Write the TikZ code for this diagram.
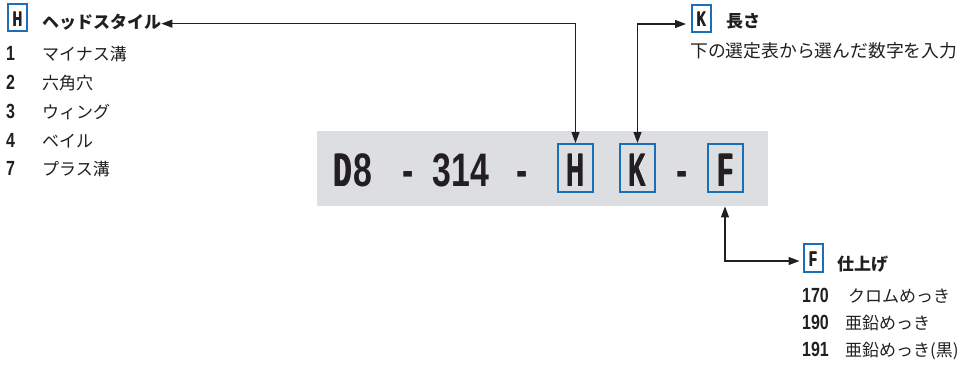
\documentclass[tikz,border=0pt]{standalone}
\usepackage{fontspec}
\setmainfont{Liberation Sans}
\newfontfamily\jp{Noto Sans CJK JP}
\usetikzlibrary{arrows.meta}
\definecolor{boxblue}{HTML}{1B6EB8}
\definecolor{bargray}{HTML}{DCDEE2}
\definecolor{ink}{HTML}{231F20}
\newcommand{\thk}[2]{\rlap{#2}\hspace{#1}\rlap{#2}\hspace{#1}#2}
\newcommand{\bigL}[1]{\thk{0.9pt}{\scalebox{0.5}[1]{\fontsize{47}{47}\selectfont\bfseries #1}}}
\newcommand{\bigD}[1]{\scalebox{0.72}[1]{\fontsize{47}{47}\selectfont\bfseries #1}}
\newcommand{\smL}[1]{\thk{0.4pt}{\scalebox{0.6}[1]{\fontsize{21}{21}\selectfont\bfseries #1}}}
\newcommand{\smD}[1]{\scalebox{0.78}[1]{\fontsize{20.5}{20.5}\selectfont\bfseries #1}}
\begin{document}
\begin{tikzpicture}[x=1pt,y=-1pt,
  conn/.style={draw=ink, line width=1.2pt, {Triangle[length=11pt,width=8pt]}-{Triangle[length=11pt,width=8pt]}},
  bbox/.style={draw=boxblue, line width=2pt, inner sep=0pt},
  jtxt/.style={anchor=base west, inner sep=0pt, text=ink, font=\jp\fontsize{17}{17}\selectfont},
  jhead/.style={anchor=base west, inner sep=0pt, text=ink, font=\jp\bfseries\fontsize{17}{17}\selectfont},
  num/.style={anchor=base west, inner sep=0pt, text=ink},
  code/.style={anchor=base, inner sep=0pt, text=ink}]
\path[use as bounding box] (0,0) rectangle (962,367);

% gray bar
\node[fill=bargray, minimum width=451pt, minimum height=75pt, inner sep=0pt, anchor=north west] (bar) at (317,131) {};

% code text
\node[code, anchor=base west] (d8) at (333,186) {\bigL{D}\hspace{1.5pt}\bigD{8}};
\node[code] (dash1) at (408,186) {\bigD{-}};
\node[code] (n314) at (461,186) {\bigD{314}};
\node[code] (dash2) at (522,186) {\bigD{-}};
\node[code] (hch) at (575.5,186) {\bigL{H}};
\node[code] (kch) at (637.5,186) {\bigL{K}};
\node[code] (dash3) at (682,186) {\bigD{-}};
\node[code] (fch) at (725.5,186) {\bigL{F}};
\node[code] (hlabch) at (17.5,26.5) {\smL{H}};
\node[code] (klabch) at (701.5,26.5) {\smL{K}};
\node[code] (flabch) at (813,266.5) {\smL{F}};

% H legend
\node[jhead] (htitle) at (42,28) {ヘッドスタイル};
\node[num] (h1) at (6,60) {\smD{1}};
\node[jtxt] (h1t) at (42,60.5) {マイナス溝};
\node[num] (h2) at (6,89) {\smD{2}};
\node[jtxt] (h2t) at (42,89.5) {六角穴};
\node[num] (h3) at (6,118) {\smD{3}};
\node[jtxt] (h3t) at (42,118.5) {ウィング};
\node[num] (h4) at (6,147) {\smD{4}};
\node[jtxt] (h4t) at (42,147.5) {ベイル};
\node[num] (h7) at (6,175) {\smD{7}};
\node[jtxt] (h7t) at (42,175.5) {プラス溝};

% K legend
\node[jhead] (ktitle) at (726,27) {長さ};
\node[jtxt, font=\jp\fontsize{17.8}{17.8}\selectfont] (kdesc) at (690,57) {下の選定表から選んだ数字を入力};

% F legend
\node[jhead] (ftitle) at (837,270) {仕上げ};
\node[num] (f170) at (802,302) {\smD{170}};
\node[jtxt] (f170t) at (848,302.5) {クロムめっき};
\node[num] (f190) at (802,329) {\smD{190}};
\node[jtxt] (f190t) at (845,329.5) {亜鉛めっき};
\node[num] (f191) at (802,356) {\smD{191}};
\node[jtxt] (f191t) at (845,356.5) {亜鉛めっき(黒)};

% blue boxes
\node[bbox, minimum width=35pt, minimum height=48pt] (hbox) at (575.5,168) {};
\node[bbox, minimum width=35pt, minimum height=48pt] (kbox) at (637.5,168) {};
\node[bbox, minimum width=35pt, minimum height=48pt] (fbox) at (725,168) {};
\node[bbox, minimum width=19pt, minimum height=27pt] (hlab) at (17.5,17.5) {};
\node[bbox, minimum width=19pt, minimum height=27pt] (klab) at (701.5,18) {};
\node[bbox, minimum width=19pt, minimum height=28pt] (flab) at (813,258) {};

% connectors
\draw[conn] ([yshift=-2pt]htitle.east) -| (hbox.north);
\draw[conn, shorten >=5pt] (kbox.north) |- ([yshift=-6pt]klab.west);
\draw[conn, shorten >=3pt] (fbox.south |- bar.south) |- ([yshift=-3pt]flab.west);
\end{tikzpicture}
\end{document}
